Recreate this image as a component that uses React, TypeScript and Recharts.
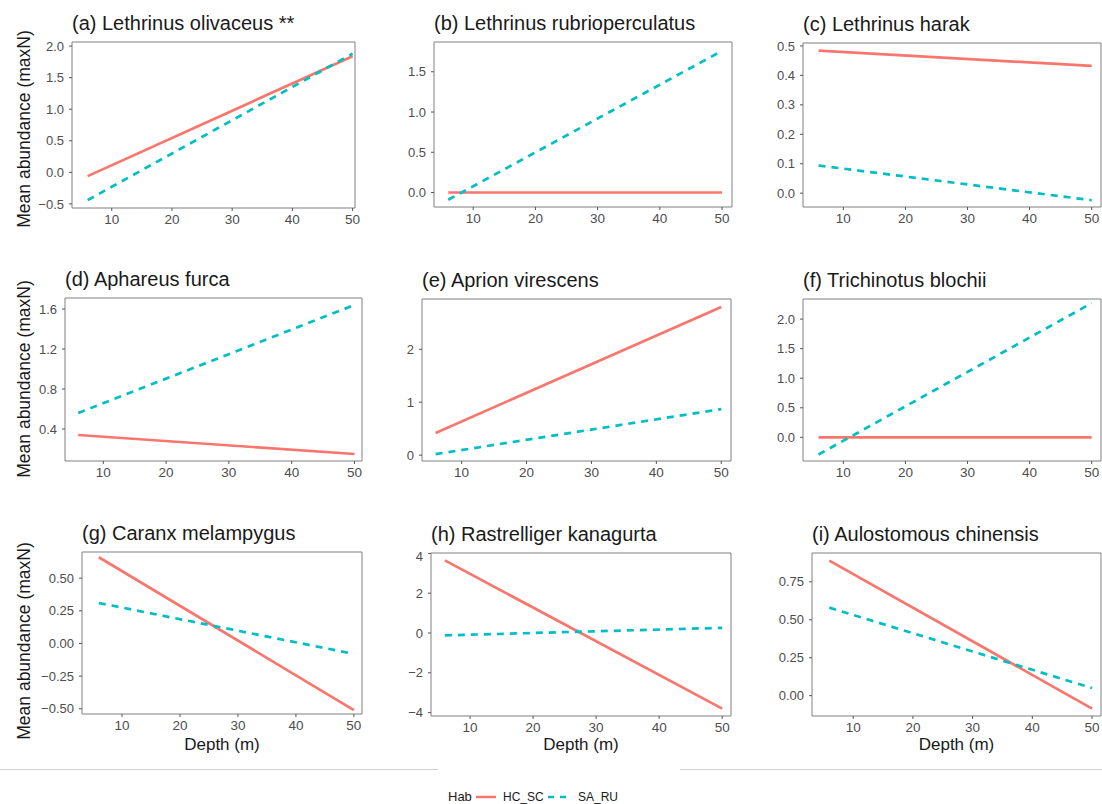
import { LineChart, Line, XAxis, YAxis, ReferenceArea } from 'recharts';

const depths = [6, 50];
const xTicks = [10, 20, 30, 40, 50];

const titles = [
    '(a) Lethrinus olivaceus **',
    '(b) Lethrinus rubrioperculatus',
    '(c) Lethrinus harak',
    '(d) Aphareus furca',
    '(e) Aprion virescens',
    '(f) Trichinotus blochii',
    '(g) Caranx melampygus',
    '(h) Rastrelliger kanagurta',
    '(i) Aulostomous chinensis',
];

// fitted mean abundance at depth 6 and 50, HC_SC habitat
const hcA = [-0.06, 1.84];
const hcB = [0, 0];
const hcC = [0.484, 0.432];
const hcD = [0.34, 0.15];
const hcE = [0.42, 2.8];
const hcF = [0, 0];
const hcG = [0.66, -0.51];
const hcH = [3.65, -3.8];
const hcI = [0.89, -0.085];

// SA_RU habitat
const saA = [-0.44, 1.88];
const saB = [-0.09, 1.76];
const saC = [0.094, -0.024];
const saD = [0.56, 1.64];
const saE = [0.02, 0.87];
const saF = [-0.29, 2.27];
const saG = [0.31, -0.08];
const saH = [-0.12, 0.26];
const saI = [0.58, 0.05];

const yTicksA = [-0.5, 0, 0.5, 1, 1.5, 2];
const yTicksB = [0, 0.5, 1, 1.5];
const yTicksC = [0, 0.1, 0.2, 0.3, 0.4, 0.5];
const yTicksD = [0.4, 0.8, 1.2, 1.6];
const yTicksE = [0, 1, 2];
const yTicksF = [0, 0.5, 1, 1.5, 2];
const yTicksG = [-0.5, -0.25, 0, 0.25, 0.5];
const yTicksH = [-4, -2, 0, 2, 4];
const yTicksI = [0, 0.25, 0.5, 0.75];

const HC_COLOR = '#F8766D';
const SA_COLOR = '#00BFC4';
const FONT = '"Liberation Sans", Arial, Helvetica, sans-serif';
const YW = 50;
const XH = 25;

type Panel = {
    title: string;
    hc: number[];
    sa: number[];
    yTicks: number[];
    dec: number;
    rect: [number, number, number, number];
    xDom: [number, number];
    yDom: [number, number];
};

const panels: Panel[] = [
    { title: titles[0], hc: hcA, sa: saA, yTicks: yTicksA, dec: 1, rect: [72, 42, 355, 208], xDom: [3.4, 50.4], yDom: [-0.565, 2.065] },
    { title: titles[1], hc: hcB, sa: saB, yTicks: yTicksB, dec: 1, rect: [434, 42, 732, 207], xDom: [3.7, 51.6], yDom: [-0.18, 1.87] },
    { title: titles[2], hc: hcC, sa: saC, yTicks: yTicksC, dec: 1, rect: [803, 43, 1101, 207], xDom: [3.5, 51.5], yDom: [-0.047, 0.51] },
    { title: titles[3], hc: hcD, sa: saD, yTicks: yTicksD, dec: 1, rect: [65, 298, 362, 461], xDom: [3.9, 51.2], yDom: [0.08, 1.71] },
    { title: titles[4], hc: hcE, sa: saE, yTicks: yTicksE, dec: 0, rect: [422, 299, 731, 461], xDom: [3.9, 51.5], yDom: [-0.11, 2.95] },
    { title: titles[5], hc: hcF, sa: saF, yTicks: yTicksF, dec: 1, rect: [803, 299, 1101, 461], xDom: [3.5, 51.5], yDom: [-0.4, 2.34] },
    { title: titles[6], hc: hcG, sa: saG, yTicks: yTicksG, dec: 2, rect: [82, 552, 362, 714], xDom: [3.1, 51.4], yDom: [-0.54, 0.7] },
    { title: titles[7], hc: hcH, sa: saH, yTicks: yTicksH, dec: 0, rect: [431, 553, 731, 716], xDom: [3.8, 51.4], yDom: [-4.17, 4.02] },
    { title: titles[8], hc: hcI, sa: saI, yTicks: yTicksI, dec: 2, rect: [812, 553, 1101, 716], xDom: [3.1, 51.5], yDom: [-0.134, 0.94] },
];

const fmt = (dec: number) => (v: number) => v.toFixed(dec).replace('-', '\u2212');

const PanelChart = ({ p }: { p: Panel }) => {
    const [l, t, r, b] = p.rect;
    const rows = depths.map((d, i) => ({ depth: d, hc: p.hc[i], sa: p.sa[i] }));
    return (
        <>
            <div style={{ position: 'absolute', left: l, top: t - 30, fontSize: 20, lineHeight: '22px', color: '#1a1a1a', whiteSpace: 'nowrap' }}>
                {p.title}
            </div>
            <div style={{ position: 'absolute', left: l - YW, top: t - 5 }}>
                <LineChart width={r - l + YW + 5} height={b - t + 5 + XH} data={rows} margin={{ top: 5, right: 5, bottom: 0, left: 0 }}>
                    <XAxis
                        dataKey="depth"
                        type="number"
                        domain={p.xDom}
                        ticks={xTicks}
                        allowDataOverflow
                        axisLine={false}
                        tickSize={3}
                        tickMargin={3}
                        height={XH}
                        tickLine={{ stroke: '#555' }}
                        tick={{ fill: '#4d4d4d', fontSize: 13.5, fontFamily: FONT }}
                    />
                    <YAxis
                        type="number"
                        domain={p.yDom}
                        ticks={p.yTicks}
                        allowDataOverflow
                        axisLine={false}
                        tickSize={3}
                        tickMargin={5}
                        width={YW}
                        tickFormatter={fmt(p.dec)}
                        tickLine={{ stroke: '#555' }}
                        tick={{ fill: '#4d4d4d', fontSize: 13, fontFamily: FONT }}
                    />
                    <ReferenceArea x1={p.xDom[0]} x2={p.xDom[1]} y1={p.yDom[0]} y2={p.yDom[1]} fill="none" stroke="#808080" strokeWidth={1} ifOverflow="visible" />
                    <Line type="linear" dataKey="hc" stroke={HC_COLOR} strokeWidth={2.7} dot={false} isAnimationActive={false} />
                    <Line type="linear" dataKey="sa" stroke={SA_COLOR} strokeWidth={2.7} strokeDasharray="7 6" dot={false} isAnimationActive={false} />
                </LineChart>
            </div>
        </>
    );
};

const yTitleCenters = [129, 379, 641];

export default function App() {
    return (
        <div style={{ position: 'absolute', left: 0, top: 0, width: 1102, height: 804, overflow: 'hidden', background: '#fff', fontFamily: FONT }}>
            {panels.map((p, i) => (
                <PanelChart key={i} p={p} />
            ))}
            {yTitleCenters.map((cy, i) => (
                <div
                    key={i}
                    style={{
                        position: 'absolute', left: 24 - 110, top: cy - 10, width: 220, height: 20, lineHeight: '20px',
                        textAlign: 'center', fontSize: 17.5, color: '#1a1a1a', transform: 'rotate(-90deg)', whiteSpace: 'nowrap',
                    }}
                >
                    Mean abundance (maxN)
                </div>
            ))}
            {panels.slice(6).map((p, i) => (
                <div
                    key={i}
                    style={{
                        position: 'absolute', left: (p.rect[0] + p.rect[2]) / 2 - 60, top: 735, width: 120, textAlign: 'center',
                        fontSize: 17, lineHeight: '20px', color: '#1a1a1a',
                    }}
                >
                    Depth (m)
                </div>
            ))}
            <div style={{ position: 'absolute', left: 0, top: 769, width: 438, height: 1, background: '#cfcfcf' }} />
            <div style={{ position: 'absolute', left: 680, top: 769, width: 422, height: 1, background: '#cfcfcf' }} />
            <div style={{ position: 'absolute', left: 448, top: 788, fontSize: 13, lineHeight: '18px', color: '#1a1a1a' }}>Hab</div>
            <svg style={{ position: 'absolute', left: 474, top: 790 }} width={24} height={14}>
                <line x1={2} y1={7} x2={22} y2={7} stroke={HC_COLOR} strokeWidth={2.5} />
            </svg>
            <div style={{ position: 'absolute', left: 503, top: 789, fontSize: 12, lineHeight: '16px', color: '#1a1a1a' }}>HC_SC</div>
            <svg style={{ position: 'absolute', left: 546, top: 790 }} width={24} height={14}>
                <line x1={2} y1={7} x2={22} y2={7} stroke={SA_COLOR} strokeWidth={2.5} strokeDasharray="6 6" />
            </svg>
            <div style={{ position: 'absolute', left: 578, top: 789, fontSize: 12, lineHeight: '16px', color: '#1a1a1a' }}>SA_RU</div>
        </div>
    );
}
